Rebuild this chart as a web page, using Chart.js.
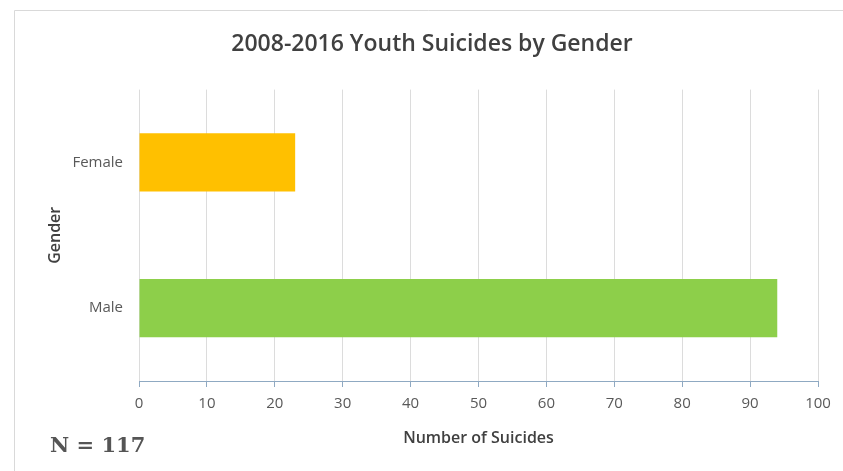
<!DOCTYPE html>
<html>
<head>
<meta charset="utf-8">
<script src="https://cdn.jsdelivr.net/npm/chart.js@4"></script>
<style>
  html, body { margin: 0; padding: 0; background: #fff; }
  #wrap { position: relative; width: 843px; height: 471px; }
  #nlabel {
    position: absolute; left: 50px; top: 432px;
    font-family: "DejaVu Serif", "Liberation Serif", serif; font-weight: bold;
    font-size: 21px; color: #555;
  }
</style>
</head>
<body>
<div id="wrap">
  <canvas id="chart" width="843" height="471"></canvas>
  <div id="nlabel">N = 117</div>
</div>
<script>
var categories = ['Female', 'Male'];
var suicides = [23, 94];
var barColors = ['#FFC000', '#8DCF4A'];
var xTicks = [0, 10, 20, 30, 40, 50, 60, 70, 80, 90, 100];

// light frame around the whole chart, like the spreadsheet export
var framePlugin = {
    id: 'frame',
    beforeDraw: function(chart) {
        var ctx = chart.ctx;
        ctx.save();
        ctx.strokeStyle = '#d9d9d9';
        ctx.lineWidth = 1;
        ctx.beginPath();
        ctx.moveTo(843, 10.5);
        ctx.lineTo(14.5, 10.5);
        ctx.lineTo(14.5, 471);
        ctx.stroke();
        ctx.restore();
    }
};

var ctx = document.getElementById('chart').getContext('2d');
var myChart = new Chart(ctx, {
    type: 'bar',
    data: {
        labels: categories,
        datasets: [{
            label: 'Number of Suicides',
            data: suicides,
            backgroundColor: barColors,
            borderWidth: 0,
            categoryPercentage: 0.4,
            barPercentage: 1
        }]
    },
    options: {
        indexAxis: 'y',
        responsive: false,
        animation: false,
        layout: { padding: { left: 46, right: 25, top: 0, bottom: 0 } },
        plugins: {
            legend: { display: false },
            tooltip: { enabled: false },
            title: {
                display: true,
                text: '2008-2016 Youth Suicides by Gender',
                color: '#404040',
                font: { family: 'Open Sans', size: 23, weight: '600' },
                padding: { top: 31, bottom: 31 }
            }
        },
        scales: {
            x: {
                min: 0,
                max: 100,
                afterBuildTicks: function(scale) {
                    scale.ticks = xTicks.map(function(v) { return { value: v }; });
                },
                afterFit: function(scale) { scale.height = 90; },
                grid: {
                    color: '#dcdcdc',
                    tickColor: '#8fa9c2',
                    tickLength: 6
                },
                border: { display: true, color: '#8fa9c2', width: 1 },
                ticks: {
                    color: '#595959',
                    font: { family: 'Open Sans', size: 15 },
                    padding: 8
                },
                title: {
                    display: true,
                    text: 'Number of Suicides',
                    color: '#404040',
                    font: { family: 'Open Sans', size: 16, weight: '600' },
                    padding: { top: 0, bottom: 23 }
                }
            },
            y: {
                afterFit: function(scale) { scale.width = 93; },
                grid: { display: false, drawTicks: false },
                border: { display: false },
                ticks: {
                    color: '#595959',
                    font: { family: 'Open Sans', size: 15 },
                    padding: 16
                },
                title: {
                    display: true,
                    text: 'Gender',
                    color: '#404040',
                    font: { family: 'Open Sans', size: 16, weight: '600' },
                    padding: { top: 0, bottom: 0 }
                }
            }
        }
    },
    plugins: [framePlugin]
});
</script>
</body>
</html>
